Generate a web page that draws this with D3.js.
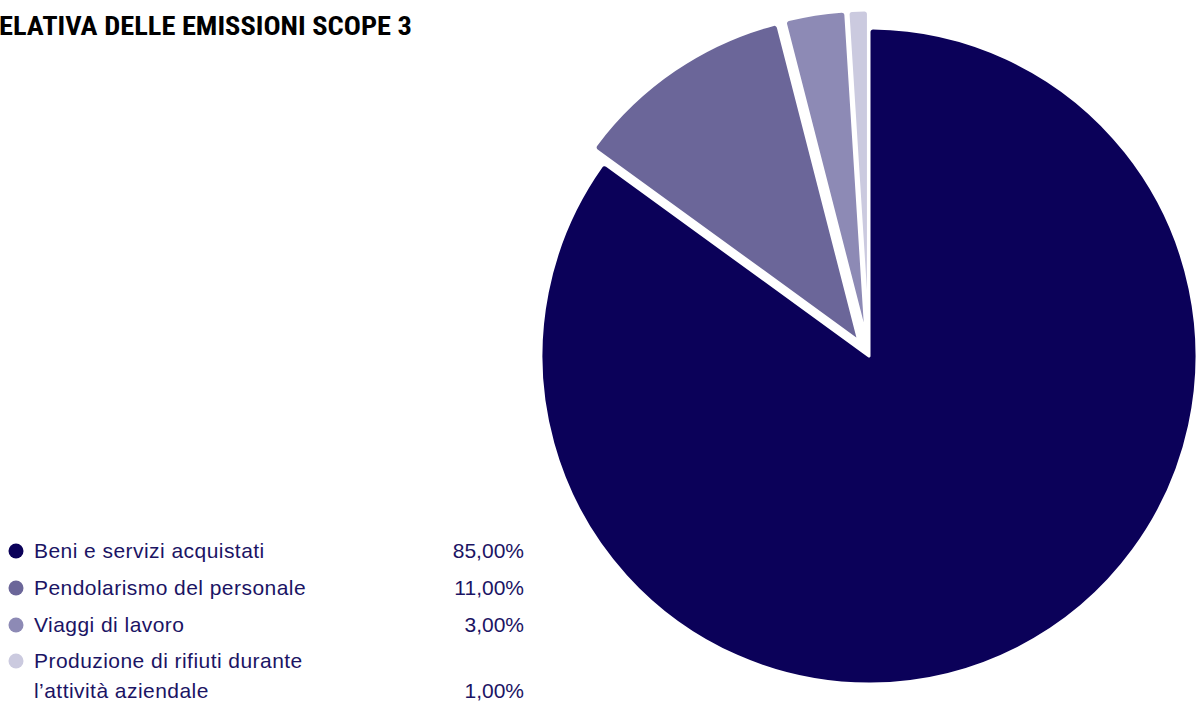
<!DOCTYPE html>
<html><head><meta charset="utf-8">
<script src="https://cdn.jsdelivr.net/npm/d3@7"></script>
<style>
html,body{margin:0;padding:0;background:#fff;}
svg{display:block;}
</style></head>
<body>
<svg id="chart" width="1202" height="702"></svg>
<script>
const titleText = "ELATIVA DELLE EMISSIONI SCOPE 3";
const categories = ["Beni e servizi acquistati", "Pendolarismo del personale", "Viaggi di lavoro", "Produzione di rifiuti durante\nl\u2019attivit\u00e0 aziendale"];
const values = [85, 11, 3, 1];
const valueLabels = ["85,00%", "11,00%", "3,00%", "1,00%"];
const colors = ["#0b0159", "#6b6699", "#8d8ab5", "#cbcadf"];

const svg = d3.select("#chart");

svg.append("text")
  .attr("x", -1).attr("y", 35)
  .attr("font-family", "'Liberation Sans Narrow', 'Roboto Condensed', Arial Narrow, sans-serif")
  .attr("font-weight", "bold")
  .attr("font-size", 26)
  .attr("textLength", 413)
  .attr("lengthAdjust", "spacingAndGlyphs")
  .attr("fill", "#000")
  .text(titleText);

const cx = 869, cy = 356, R = 328, explode = 18;
const pie = d3.pie().sort(null).value(d => d)(values);
const arc = d3.arc().innerRadius(0).outerRadius(R).cornerRadius(4);
const color = d3.scaleOrdinal().domain(d3.range(values.length)).range(colors);

const g = svg.append("g").attr("transform", `translate(${cx},${cy})`);
g.selectAll("path").data(pie).join("path")
  .attr("d", arc)
  .attr("fill", (d,i) => color(i))
  .attr("stroke", "#fff")
  .attr("stroke-width", 3)
  .attr("stroke-linejoin", "round")
  .attr("transform", (d,i) => {
    if (i === 0) return null;
    const a = (d.startAngle + d.endAngle) / 2;
    return `translate(${Math.sin(a)*explode},${-Math.cos(a)*explode})`;
  });

// legend
const rowY = [558, 595, 632, 668];
const lg = svg.append("g").attr("font-family", "'Liberation Sans', Arial, sans-serif").attr("font-size", 21).attr("fill", "#1b1464");
categories.forEach((c, i) => {
  const lines = c.split("\n");
  lg.append("circle").attr("cx", 16).attr("cy", rowY[i] - 7).attr("r", 7.5).attr("fill", color(i));
  const t = lg.append("text").attr("x", 34).attr("y", rowY[i]).attr("letter-spacing", 0.45);
  lines.forEach((l, j) => t.append("tspan").attr("x", 34).attr("dy", j === 0 ? 0 : 30).text(l));
  lg.append("text").attr("x", 524).attr("y", rowY[i] + (lines.length - 1) * 30)
    .attr("text-anchor", "end").text(valueLabels[i]);
});
</script>
</body></html>
